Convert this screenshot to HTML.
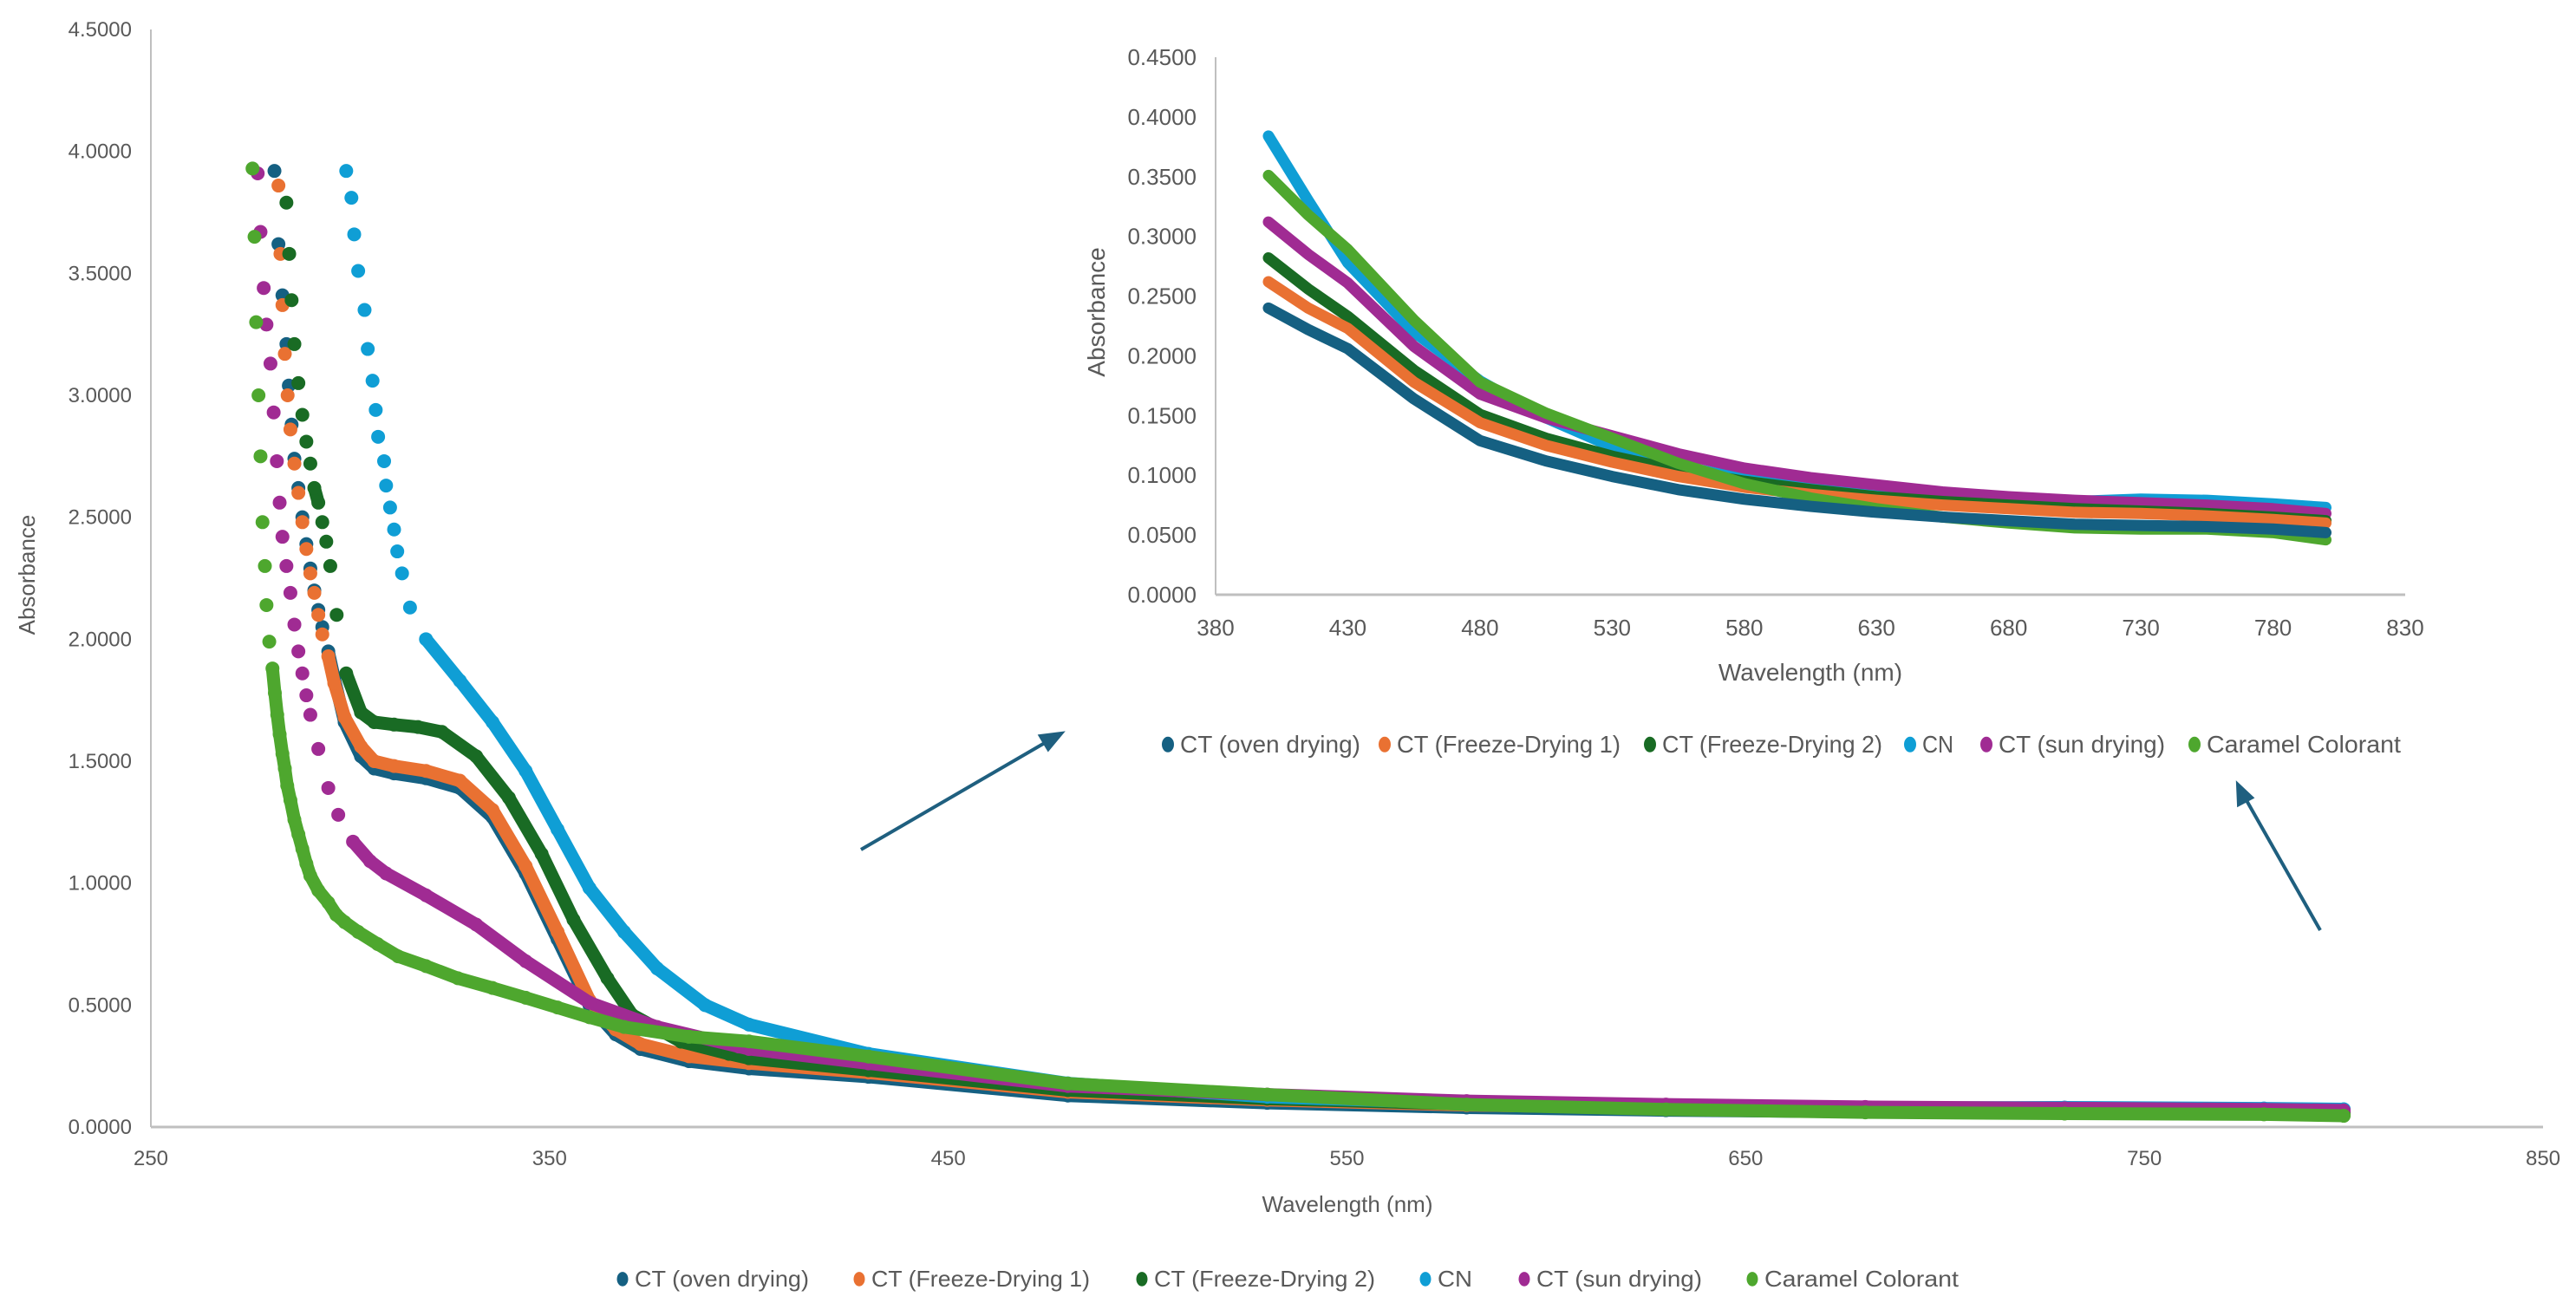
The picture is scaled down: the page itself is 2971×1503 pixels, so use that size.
<!DOCTYPE html>
<html><head><meta charset="utf-8"><style>
html,body{margin:0;padding:0;background:#fff;}
svg{display:block;font-family:"Liberation Sans Narrow","Liberation Sans",sans-serif;}
text{fill:#595959;}
</style></head><body>
<svg id="chart" width="2971" height="1503" viewBox="0 0 2971 1503" xmlns="http://www.w3.org/2000/svg">
<g id="main"></g>
<g id="inset"></g>
<g stroke="#1f5f7f" stroke-width="4" fill="#1f5f7f">
<line x1="993" y1="980" x2="1210" y2="854"/>
<polygon points="1224,846 1200,849 1209,864"/>
<line x1="2676" y1="1073" x2="2588" y2="918"/>
<polygon points="2581,905 2582,928 2597,920"/>
</g>
</svg>
<script>
const seriesNames = ["CT (oven drying)","CT (Freeze-Drying 1)","CT (Freeze-Drying 2)","CN","CT (sun drying)","Caramel Colorant"];
const seriesColors = ["#156082","#E97132","#196B24","#0F9ED5","#A02B93","#4EA72E"];
// main chart data: wavelength (nm) / absorbance pairs
const ovenX = [281,282,283,284,284.6,285.3,286,287,288,289,290,291,292,293,294.5,296,298.6,302.7,306,311,319,327.5,335.7,344,352,360,366.6,372.8,385,400,430,480,530,580,630,680,730,780,800];
const ovenY = [3.92,3.62,3.41,3.21,3.04,2.88,2.74,2.62,2.5,2.39,2.29,2.2,2.12,2.05,1.95,1.84,1.66,1.52,1.47,1.45,1.43,1.39,1.27,1.04,0.77,0.5,0.38,0.32,0.27,0.24,0.206,0.129,0.099,0.08,0.069,0.062,0.058,0.055,0.052];
const f1X = [282,282.5,283,283.6,284.3,285,286,287,288,289,290,291,292,293,294.5,296,298.6,302.7,306,311,319,327.5,335.7,344,352,360,366.6,372.8,385,400,430,480,530,580,630,680,730,780,800];
const f1Y = [3.86,3.58,3.37,3.17,3.0,2.86,2.72,2.6,2.48,2.37,2.27,2.19,2.1,2.02,1.93,1.82,1.68,1.56,1.5,1.48,1.46,1.42,1.3,1.07,0.8,0.52,0.4,0.34,0.29,0.262,0.223,0.144,0.111,0.09,0.079,0.072,0.068,0.063,0.06];
const f2X = [284,284.7,285.3,286,287,288,289,290,291,292,293,294,295,296.6,299,302.7,306,311,317,323,331.6,339.8,348,356,364.5,370.7,383,395,400,430,480,530,580,630,680,730,780,800];
const f2Y = [3.79,3.58,3.39,3.21,3.05,2.92,2.81,2.72,2.62,2.56,2.48,2.4,2.3,2.1,1.86,1.7,1.66,1.65,1.64,1.62,1.52,1.35,1.12,0.85,0.61,0.46,0.35,0.3,0.282,0.233,0.151,0.116,0.094,0.082,0.075,0.07,0.065,0.062];
const cnX = [299,300.3,301,302,303.6,304.4,305.6,306.4,307,308.5,309,310,311,311.8,313,315,319,327.5,335.7,344,352,360,368.7,377,389,400,430,480,530,580,630,680,730,780,800];
const cnY = [3.92,3.81,3.66,3.51,3.35,3.19,3.06,2.94,2.83,2.73,2.63,2.54,2.45,2.36,2.27,2.13,2.0,1.83,1.66,1.46,1.22,0.98,0.8,0.65,0.5,0.42,0.3,0.179,0.124,0.097,0.084,0.078,0.08,0.076,0.073];
const sunX = [276.8,277.5,278.3,279,280,280.8,281.6,282.3,283,284,285,286,287,288,289,290,292,294.5,297,300.7,305,309,319,331.6,344,360,377,397.5,400,430,480,530,580,630,680,730,780,800];
const sunY = [3.91,3.67,3.44,3.29,3.13,2.93,2.73,2.56,2.42,2.3,2.19,2.06,1.95,1.86,1.77,1.69,1.55,1.39,1.28,1.17,1.09,1.04,0.95,0.83,0.68,0.51,0.41,0.33,0.32,0.261,0.168,0.133,0.106,0.092,0.082,0.077,0.072,0.068];
const carX = [275.5,276,276.4,277,277.5,278,278.6,279,279.7,280.5,281.1,281.7,282.3,283,283.6,284.2,285,286,287,288,289,290,292,294.5,296.5,298.6,302,306.9,312,319,327,335.7,344,352,360,368.7,385,400,430,480,530,580,630,680,730,780,800];
const carY = [3.93,3.65,3.3,3.0,2.75,2.48,2.3,2.14,1.99,1.88,1.78,1.69,1.61,1.53,1.47,1.4,1.34,1.26,1.2,1.14,1.08,1.03,0.97,0.92,0.87,0.84,0.8,0.75,0.7,0.66,0.61,0.57,0.53,0.49,0.45,0.41,0.37,0.351,0.289,0.178,0.133,0.092,0.072,0.06,0.055,0.052,0.046];
// inset data (400-800 nm)
const insetX = [400,415,430,455,480,505,530,555,580,605,630,655,680,705,730,755,780,800];
const insetOven = [0.240,0.222,0.206,0.164,0.129,0.112,0.099,0.088,0.080,0.074,0.069,0.065,0.062,0.059,0.058,0.057,0.055,0.052];
const insetF1 = [0.262,0.240,0.223,0.178,0.144,0.125,0.111,0.099,0.090,0.084,0.079,0.075,0.072,0.069,0.068,0.066,0.063,0.060];
const insetF2 = [0.282,0.256,0.233,0.188,0.151,0.131,0.116,0.104,0.095,0.088,0.082,0.078,0.075,0.072,0.070,0.068,0.065,0.062];
const insetCN = [0.384,0.330,0.278,0.220,0.179,0.148,0.124,0.108,0.097,0.089,0.084,0.080,0.078,0.078,0.080,0.079,0.076,0.073];
const insetSun = [0.312,0.285,0.261,0.208,0.168,0.148,0.133,0.118,0.106,0.098,0.092,0.086,0.082,0.079,0.077,0.075,0.072,0.068];
const insetCar = [0.351,0.318,0.289,0.230,0.178,0.152,0.131,0.110,0.093,0.081,0.072,0.065,0.060,0.056,0.055,0.055,0.052,0.046];
const mainYTicks = ["0.0000","0.5000","1.0000","1.5000","2.0000","2.5000","3.0000","3.5000","4.0000","4.5000"];
const mainXTicks = [250,350,450,550,650,750,850];
const insetYTicks = ["0.0000","0.0500","0.1000","0.1500","0.2000","0.2500","0.3000","0.3500","0.4000","0.4500"];
const insetXTicks = [380,430,480,530,580,630,680,730,780,830];

const NS = "http://www.w3.org/2000/svg";
function mk(parent, tag, attrs, txt){const e=document.createElementNS(NS,tag);for(const k in attrs)e.setAttribute(k,attrs[k]);if(txt!==undefined)e.textContent=txt;parent.appendChild(e);return e;}

// ---- main chart ----
const M = {x0:174,x1:2933,y0:1300,y1:34,xmin:250,xmax:850,ymin:0,ymax:4.5};
const mx = v => M.x0 + (v-M.xmin)/(M.xmax-M.xmin)*(M.x1-M.x0);
const my = v => M.y0 - (v-M.ymin)/(M.ymax-M.ymin)*(M.y0-M.y1);
const main = document.getElementById('main');
let ax = mk(main,'line',{x1:M.x0,y1:M.y1,x2:M.x0,y2:M.y0,stroke:'#bfbfbf','stroke-width':2});
 
ax = mk(main,'line',{x1:M.x0,y1:M.y0,x2:M.x1,y2:M.y0,stroke:'#bfbfbf','stroke-width':3});
 
mainYTicks.forEach(t=>{const e=mk(main,'text',{x:152,y:my(parseFloat(t))+8,'text-anchor':'end','font-size':24},t);
  });
mainXTicks.forEach(t=>{const e=mk(main,'text',{x:mx(t),y:1344,'text-anchor':'middle','font-size':24},String(t));
  });
let tt = mk(main,'text',{x:1554,y:1398,'text-anchor':'middle','font-size':26},'Wavelength (nm)');
 
tt = mk(main,'text',{x:0,y:0,'text-anchor':'middle','font-size':26,transform:'translate(40,663) rotate(-90)'},'Absorbance');
 

const mainXs=[ovenX,f1X,f2X,cnX,sunX,carX], mainYs=[ovenY,f1Y,f2Y,cnY,sunY,carY];
const lineBelow=[1.95,1.95,1.95,2.1,1.25,1.95];
mainXs.forEach((xs,i)=>{
 const g=mk(main,'g',{});
  
 const c=seriesColors[i];
 for(let k=1;k<xs.length;k++){
  const xa=mx(xs[k-1]),ya=my(mainYs[i][k-1]),xb=mx(xs[k]),yb=my(mainYs[i][k]);
  if(Math.hypot(xb-xa,yb-ya)<20 || (mainYs[i][k-1]<=lineBelow[i] && mainYs[i][k]<=lineBelow[i])){
   const l=mk(g,'line',{x1:xa,y1:ya,x2:xb,y2:yb,stroke:c,'stroke-width':15,'stroke-linecap':'round'});
    
  }
 }
 xs.forEach((x,k)=>{const d=mk(g,'circle',{cx:mx(x),cy:my(mainYs[i][k]),r:8,fill:c});
   });
});

// ---- inset ----
const I = {x0:1402,x1:2774,y0:686,y1:66,xmin:380,xmax:830,ymin:0,ymax:0.45};
const ix = v => I.x0 + (v-I.xmin)/(I.xmax-I.xmin)*(I.x1-I.x0);
const iy = v => I.y0 - (v-I.ymin)/(I.ymax-I.ymin)*(I.y0-I.y1);
const ins = document.getElementById('inset');
ax = mk(ins,'line',{x1:I.x0,y1:I.y1,x2:I.x0,y2:I.y0,stroke:'#bfbfbf','stroke-width':2});
 
ax = mk(ins,'line',{x1:I.x0,y1:I.y0,x2:I.x1,y2:I.y0,stroke:'#bfbfbf','stroke-width':3});
 
insetYTicks.forEach(t=>{const e=mk(ins,'text',{x:1380,y:iy(parseFloat(t))+9,'text-anchor':'end','font-size':26},t);
  });
insetXTicks.forEach(t=>{const e=mk(ins,'text',{x:ix(t),y:733,'text-anchor':'middle','font-size':26},String(t));
  });
tt = mk(ins,'text',{x:2088,y:785,'text-anchor':'middle','font-size':28},'Wavelength (nm)');
 
tt = mk(ins,'text',{x:0,y:0,'text-anchor':'middle','font-size':28,transform:'translate(1274,360) rotate(-90)'},'Absorbance');
 
const insetYs=[insetOven,insetF1,insetF2,insetCN,insetSun,insetCar];
const insetOrder=[3,4,2,1,5,0];
insetOrder.forEach(i=>{
 const pts=insetX.map((x,k)=>ix(x)+','+iy(insetYs[i][k])).join(' ');
 const p=mk(ins,'polyline',{points:pts,fill:'none',stroke:seriesColors[i],'stroke-width':13,'stroke-linecap':'round','stroke-linejoin':'round'});
  
});

// ---- legends ----
function legend(parent,dotXs,widths,y,fs,name){
 const g=mk(parent,'g',{});
  
 seriesNames.forEach((n,i)=>{
  const d=mk(g,'ellipse',{cx:dotXs[i],cy:y-fs*0.33,rx:fs*0.25,ry:fs*0.32,fill:seriesColors[i]});
   
  const t=mk(g,'text',{x:dotXs[i]+14,y:y,'font-size':fs,textLength:widths[i],lengthAdjust:'spacingAndGlyphs'},n);
   
 });
}
legend(main,[718,991,1317,1644,1758,2021],[201,252,255,40,191,224],1484,26,'main-legend');
legend(ins,[1347,1597,1903,2203,2291,2531],[208,258,254,36,192,224],868,28,'inset-legend');
</script>
</body></html>
